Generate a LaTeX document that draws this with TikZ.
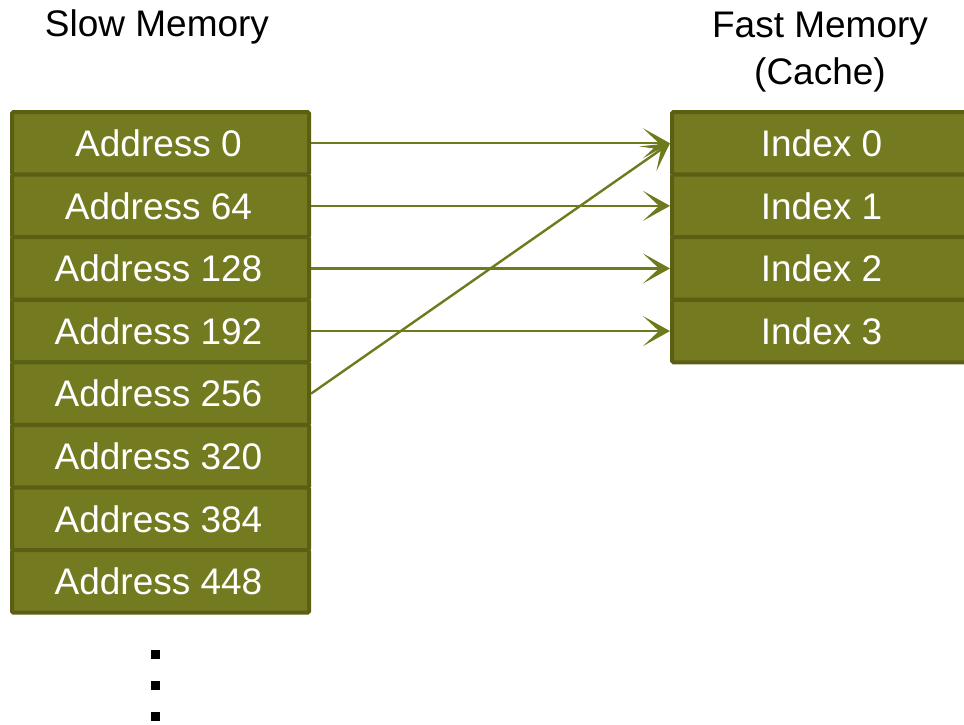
\documentclass[tikz,border=0pt]{standalone}
\usepackage{fontspec}
\setmainfont{Liberation Sans}
\usetikzlibrary{arrows.meta}
\definecolor{olivefill}{HTML}{737A1F}
\definecolor{olivedark}{HTML}{5A5F14}
\definecolor{arrowcol}{HTML}{6F7A1C}
\tikzset{olivetip/.tip={Stealth[length=27pt,width=30pt,inset=16pt]}}
\begin{document}
\begin{tikzpicture}[x=1pt,y=-1pt,
  cell/.style={draw=olivedark, line width=4pt, fill=olivefill, rounded corners=1.5pt,
    text=white, font=\fontsize{37}{40}\selectfont, minimum height=62.5pt, inner sep=0pt, anchor=north west},
  lcell/.style={cell, minimum width=297pt},
  rcell/.style={cell, minimum width=320pt},
  link/.style={draw=arrowcol, line width=2.4pt, -olivetip},
  head/.style={font=\fontsize{37}{47}\selectfont, align=center, inner sep=0pt},
  dot/.style={fill=black, minimum size=9pt, inner sep=0pt}
]
\useasboundingbox (0,0) rectangle (964,724);
\clip (0,0) rectangle (964,724);
\node[head] (slow) at (157,27) {Slow Memory};
\node[head, anchor=north] (fast) at (820,12) {Fast Memory\\(Cache)};
\foreach \i/\t in {0/Address 0,1/Address 64,2/Address 128,3/Address 192,4/Address 256,5/Address 320,6/Address 384,7/Address 448}{
  \node[lcell] (a\i) at (10,{110+62.6*\i}) {\hspace*{-4pt}\t};
}
\foreach \i in {0,1,2,3}{
  \node[rcell] (c\i) at (670,{110+62.6*\i}) {\hspace*{-21pt}Index \i};
}
\foreach \i in {0,1,2,3}{
  \draw[link] (a\i.east) -- (c\i.west);
}
\draw[link] (a4.east) -- (c0.west);
\node[dot] (d1) at (155,654) {};
\node[dot] (d2) at (155,685) {};
\node[dot] (d3) at (155,716) {};
\end{tikzpicture}
\end{document}
